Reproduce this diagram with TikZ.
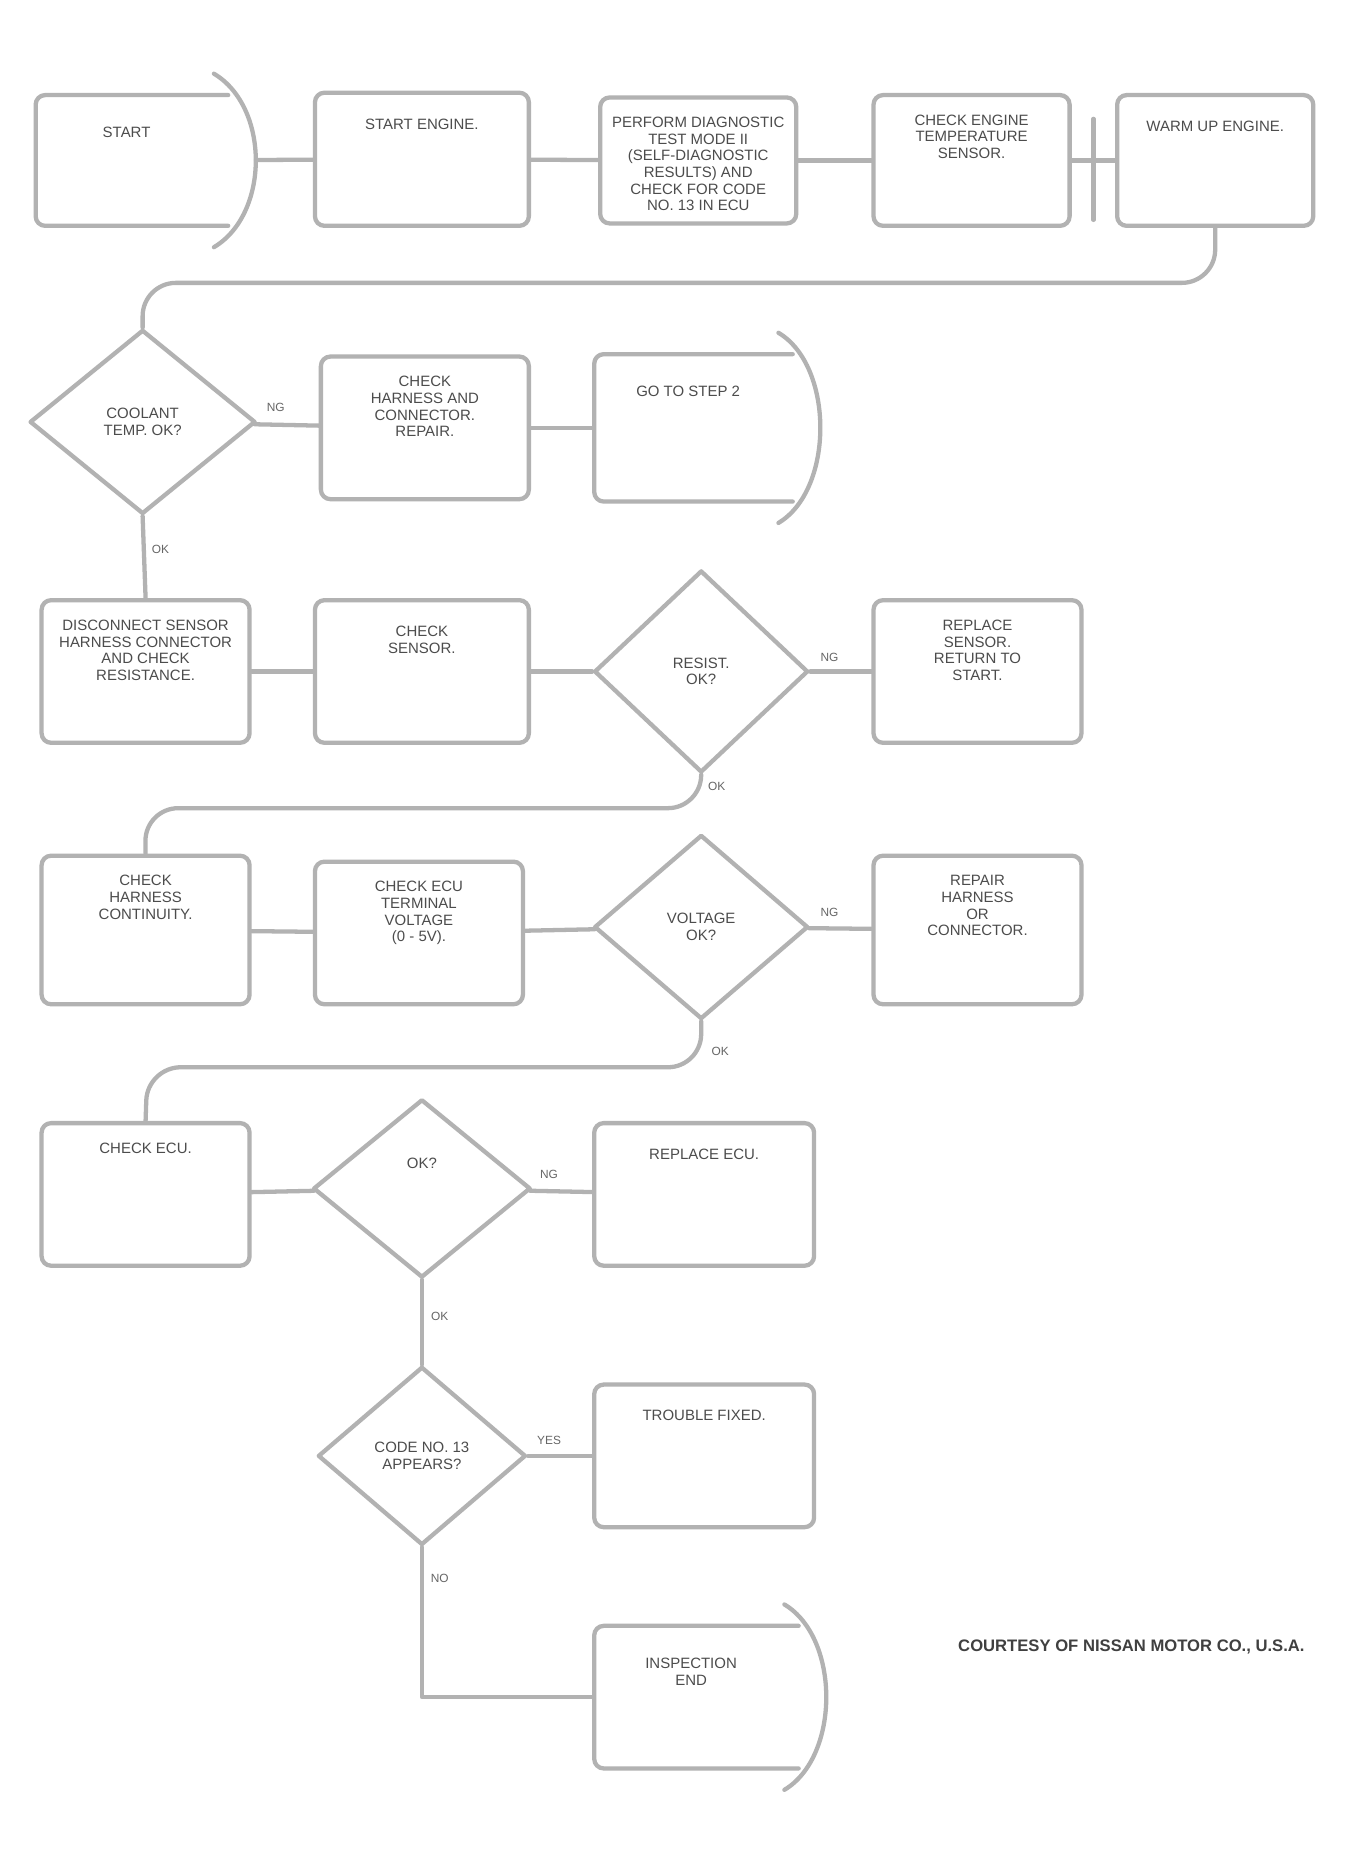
\documentclass[tikz,border=0pt]{standalone}
\usepackage{fontspec}
\setmainfont{Liberation Sans}
\usetikzlibrary{shapes.geometric,calc}
\tikzset{
  ln/.style={draw=black!30, line width=1.8pt, line cap=round, line join=round},
  box/.style={ln, rectangle, rounded corners=4pt, inner sep=0pt},
  dia/.style={ln, diamond, inner sep=0pt},
  ghost/.style={rectangle, inner sep=0pt},
  txt/.style={text=black!70, font=\fontsize{6.3}{7}\selectfont, align=center, inner sep=1pt},
  lab/.style={text=black!60, font=\fontsize{5}{6}\selectfont, inner sep=1pt}
}
% box: name, x1, y1, x2, y2, text
\newcommand\mybox[6]{%
  \node[box, minimum width={(#4-#2)*0.5pt}, minimum height={(#5-#3)*0.5pt}] (#1) at ({(#2+#4)/2},{(#3+#5)/2}) {};
  \node[txt, anchor=north] (#1t) at ([yshift=-8pt]#1.north) {#6};}
% diamond: name, cx, cy, w, h, text
\newcommand\mydia[6]{%
  \node[dia, minimum width={#4*0.5pt}, minimum height={#5*0.5pt}] (#1) at (#2,#3) {};
  \node[txt] (#1t) at (#1) {#6};}
% connector shape: name, xl, yt, xr(body), yb, text
\newcommand\myconn[6]{%
  \node[ghost, minimum width={(#4+35-#2)*0.5pt}, minimum height={(#5-#3)*0.5pt}] (#1) at ({(#2+#4+35)/2},{(#3+#5)/2}) {};
  \draw[ln, rounded corners=4pt] (#4+12,#3) -- (#2,#3) -- (#2,#5) -- (#4+12,#5);
  \draw[ln] (#4,#3-18) .. controls (#4+47,#3+10) and (#4+47,#5-10) .. (#4,#5+18);
  \node[txt, anchor=north] (#1t) at ([yshift=-10pt,xshift=-8pt]#1.north) {#6};}
\begin{document}
\begin{tikzpicture}[x=0.5pt,y=-0.5pt]
\useasboundingbox[fill=white] (0,0) rectangle (1140,1560);
% Row 1
\myconn{A}{30}{80}{180}{190}{\\START}
\mybox{B}{265}{78}{445}{190}{\\START ENGINE.}
\mybox{C}{505}{82}{670}{188}{PERFORM DIAGNOSTIC\\TEST MODE II\\(SELF-DIAGNOSTIC\\RESULTS) AND\\CHECK FOR CODE\\NO. 13 IN ECU}
\mybox{D}{735}{80}{900}{190}{CHECK ENGINE\\TEMPERATURE\\SENSOR.}
\mybox{E}{940}{80}{1105}{190}{\\WARM UP ENGINE.}
\draw[ln] (A) -- (B);
\draw[ln] (B) -- (C);
\draw[ln] (C) -- (D);
\draw[ln] (D) -- (E);
\coordinate (dt) at (920,100); \coordinate (db) at (920,185);
\draw[ln] (dt) -- (db);
% Row 2
\mydia{F}{120}{355}{190}{155}{COOLANT\\TEMP. OK?}
\mybox{G}{270}{300}{445}{420}{CHECK\\HARNESS AND\\CONNECTOR.\\REPAIR.}
\myconn{H}{500}{298}{655}{422}{\\GO TO STEP 2}
\coordinate (r1) at (120,238);
\draw[ln, rounded corners=14pt] (E.south) |- (r1) -- (F.north);
\draw[ln] (F) -- (G);
\draw[ln] (G) -- (H);
\node[lab] (Fng) at (232,343) {NG};
% Row 3
\mybox{I}{35}{505}{210}{625}{DISCONNECT SENSOR\\HARNESS CONNECTOR\\AND CHECK\\RESISTANCE.}
\mybox{J}{265}{505}{445}{625}{\\CHECK\\SENSOR.}
\mydia{K}{590}{565}{180}{170}{RESIST.\\OK?}
\mybox{L}{735}{505}{910}{625}{REPLACE\\SENSOR.\\RETURN TO\\START.}
\draw[ln] (F.south) -- (I.north);
\node[lab] (Fok) at (135,462) {OK};
\draw[ln] (I) -- (J);
\draw[ln] (J) -- (K);
\draw[ln] (K) -- (L);
\node[lab] (Kng) at (698,553) {NG};
% Row 4
\mybox{M}{35}{720}{210}{845}{CHECK\\HARNESS\\CONTINUITY.}
\mybox{N}{265}{725}{440}{845}{CHECK ECU\\TERMINAL\\VOLTAGE\\(0 - 5V).}
\mydia{O}{590}{780}{180}{155}{VOLTAGE\\OK?}
\mybox{P}{735}{720}{910}{845}{REPAIR\\HARNESS\\OR\\CONNECTOR.}
\coordinate (r2) at (122,680);
\draw[ln, rounded corners=14pt] (K.south) |- (r2) -- (M.north);
\node[lab] (Kok) at (603,662) {OK};
\draw[ln] (M) -- (N);
\draw[ln] (N) -- (O);
\draw[ln] (O) -- (P);
\node[lab] (Ong) at (698,768) {NG};
% Row 5
\mybox{Q}{35}{945}{210}{1065}{CHECK ECU.}
\mydia{R}{355}{1000}{183}{150}{OK?\\ \\ \\}
\mybox{S}{500}{945}{685}{1065}{\\REPLACE ECU.}
\coordinate (r3) at (124,898);
\draw[ln, rounded corners=14pt] (O.south) |- (r3) -- (Q.north);
\node[lab] (Ook) at (606,885) {OK};
\draw[ln] (Q) -- (R);
\draw[ln] (R) -- (S);
\node[lab] (Rng) at (462,988) {NG};
% Row 6
\mydia{T}{355}{1225}{175}{150}{CODE NO. 13\\APPEARS?}
\mybox{U}{500}{1165}{685}{1285}{\\TROUBLE FIXED.}
\draw[ln] (R.south) -- (T.north);
\node[lab] (Rok) at (370,1108) {OK};
\draw[ln] (T) -- (U);
\node[lab] (Tyes) at (462,1212) {YES};
% Row 7
\myconn{V}{500}{1368}{660}{1488}{\\INSPECTION\\END}
\draw[ln] (T.south) |- (V.west);
\node[lab] (Tno) at (370,1328) {NO};
\node[text=black!75, font=\bfseries\fontsize{7}{8}\selectfont, inner sep=0pt] (credit) at (952,1386) {COURTESY OF NISSAN MOTOR CO., U.S.A.};
\end{tikzpicture}
\end{document}
